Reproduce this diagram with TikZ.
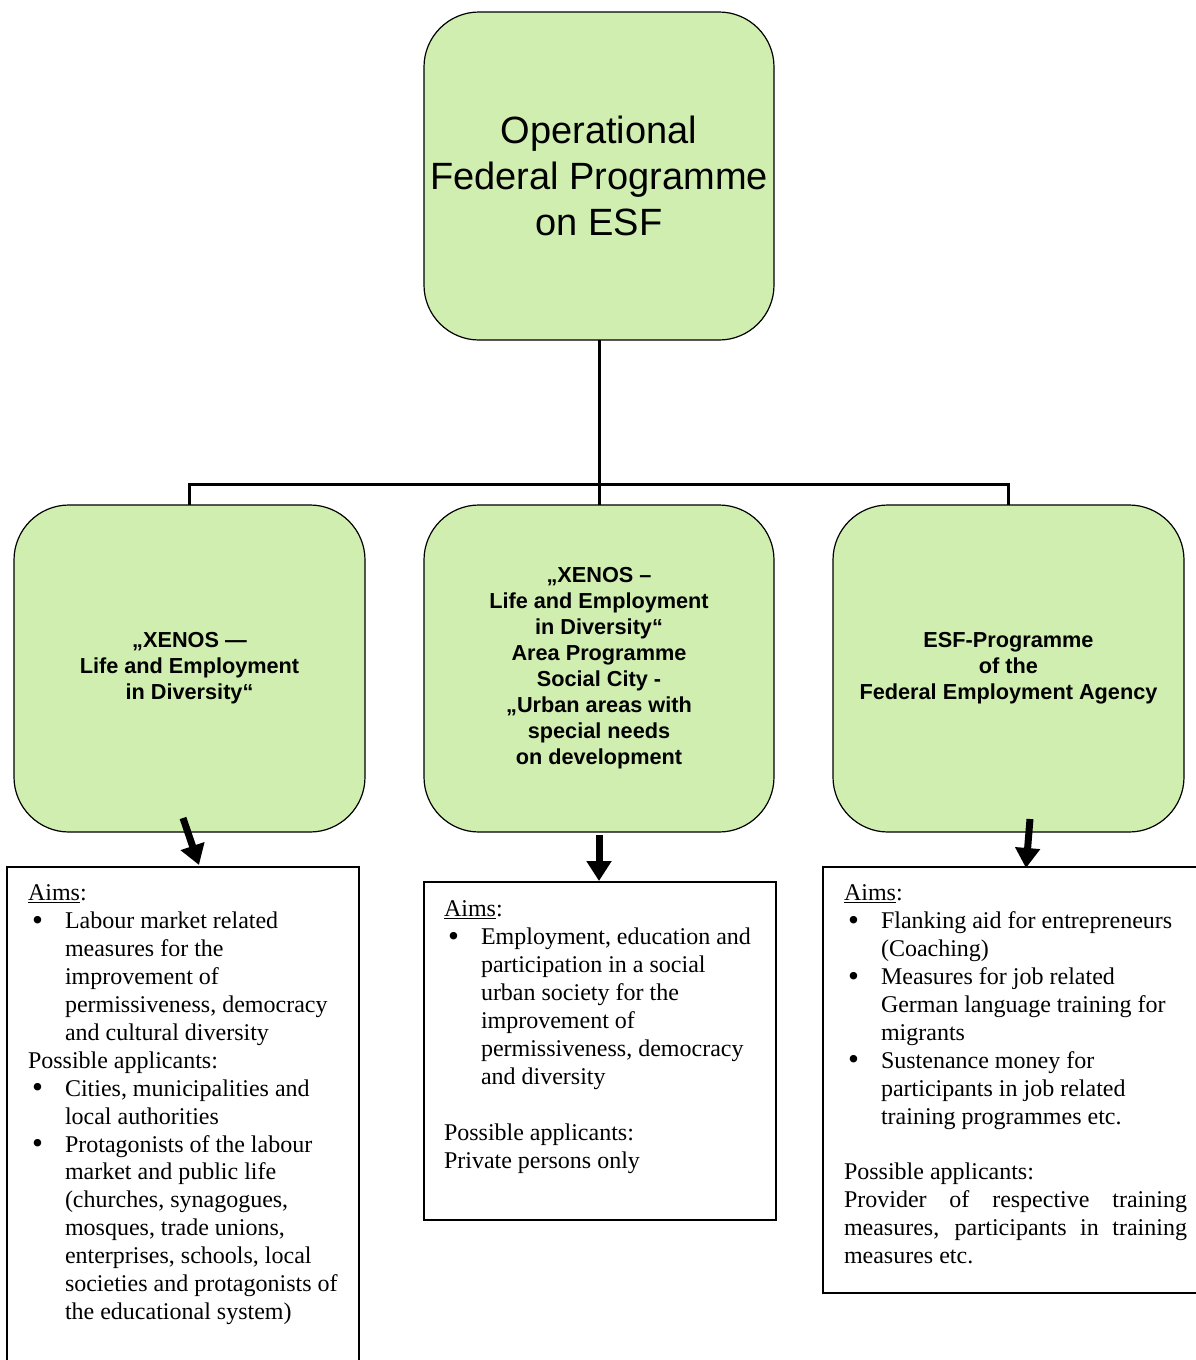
\documentclass[tikz,border=0pt]{standalone}
\usepackage{fontspec}
\setmainfont{Liberation Serif}
\newfontfamily\arialfont{Liberation Sans}
\usetikzlibrary{positioning, arrows.meta}
\definecolor{esfgreen}{RGB}{208,238,176}
\newcommand\bul{\makebox[37pt][l]{\hspace{4pt}\smash{\raisebox{-1.5pt}{\scalebox{1.3}{\textbullet}}}}}
\newcommand\ind{\hspace*{37pt}}

\begin{document}
\begin{tikzpicture}[x=1pt, y=-1pt,
  every node/.style = {inner sep=0pt, outer sep=0pt},
     greenbox/.style = {rectangle, rounded corners=55pt, draw, line width=1.2pt,
                       fill=esfgreen, minimum width=351pt, minimum height=327pt,
                       anchor=north west, align=center,
                       font=\arialfont\bfseries\fontsize{21.7}{26}\selectfont},
      infobox/.style = {rectangle, draw, line width=1.8pt, anchor=north west},
     infotext/.style = {anchor=north west, align=left,
                       font=\fontsize{24}{27.9}\selectfont},
         link/.style = {line width=3pt},
     fatarrow/.style = {line width=7pt, -{Triangle[length=20pt, width=24pt]}}
                        ]
\useasboundingbox (0,0) rectangle (1196,1360);
% top programme
\node (esf) [greenbox, minimum width=350pt, minimum height=328pt,
             font=\arialfont\fontsize{38}{46}\selectfont] at (424,12)
      {Operational\\Federal Programme\\on ESF};
% the three sub programmes
\node (xenos) [greenbox] at (14,505)
      {„XENOS —\\Life and Employment\\in Diversity“};
\node (social) [greenbox, minimum width=350pt] at (424,505)
      {„XENOS –\\Life and Employment\\in Diversity“\\Area Programme\\Social City -\\„Urban areas with\\special needs\\on development};
\node (agency) [greenbox] at (833,505)
      {ESF-Programme\\of the\\Federal Employment Agency};
\coordinate (split) at (599,484);
\draw[link] (esf.south) -- (split);
\draw[link] (xenos.north) |- (split) -| (agency.north);
\draw[link] (split) -- (social.north);
% aims and applicants
\node (aimsL) [infobox, minimum width=352pt, minimum height=520pt] at (7,867) {};
\node (aimsM) [infobox, minimum width=352pt, minimum height=338pt] at (424,882) {};
\node (aimsR) [infobox, minimum width=400pt, minimum height=426pt] at (823,867) {};
\node (textL) [infotext] at ([shift={(21,18)}]aimsL.north west)
      {\underline{Aims}:\\
       \bul Labour market related\\
       \ind measures for the\\
       \ind improvement of\\
       \ind permissiveness, democracy\\
       \ind and cultural diversity\\
       Possible applicants:\\
       \bul Cities, municipalities and\\
       \ind local authorities\\
       \bul Protagonists of the labour\\
       \ind market and public life\\
       \ind (churches, synagogues,\\
       \ind mosques, trade unions,\\
       \ind enterprises, schools, local\\
       \ind societies and protagonists of\\
       \ind the educational system)};
\node (textM) [infotext] at ([shift={(20,19)}]aimsM.north west)
      {\underline{Aims}:\\
       \bul Employment, education and\\
       \ind participation in a social\\
       \ind urban society for the\\
       \ind improvement of\\
       \ind permissiveness, democracy\\
       \ind and diversity\\
       \mbox{}\\
       Possible applicants:\\
       Private persons only};
\node (textR) [infotext] at ([shift={(21,18)}]aimsR.north west)
      {\underline{Aims}:\\
       \bul Flanking aid for entrepreneurs\\
       \ind (Coaching)\\
       \bul Measures for job related\\
       \ind German language training for\\
       \ind migrants\\
       \bul Sustenance money for\\
       \ind participants in job related\\
       \ind training programmes etc.\\
       \mbox{}\\
       Possible applicants:\\
       \makebox[343pt][s]{Provider of respective training}\\
       \makebox[343pt][s]{measures, participants in training}\\
       measures etc.};
\draw[fatarrow] ([shift={(-6.5,-14)}]xenos.south) -- ([shift={(16,-2)}]aimsL.north);
\draw[fatarrow] ([shift={(0,3)}]social.south) -- ([shift={(-1,-1)}]aimsM.north);
\draw[fatarrow] ([shift={(21.5,-13)}]agency.south) -- ([shift={(3,1)}]aimsR.north);
\end{tikzpicture}
\end{document}
